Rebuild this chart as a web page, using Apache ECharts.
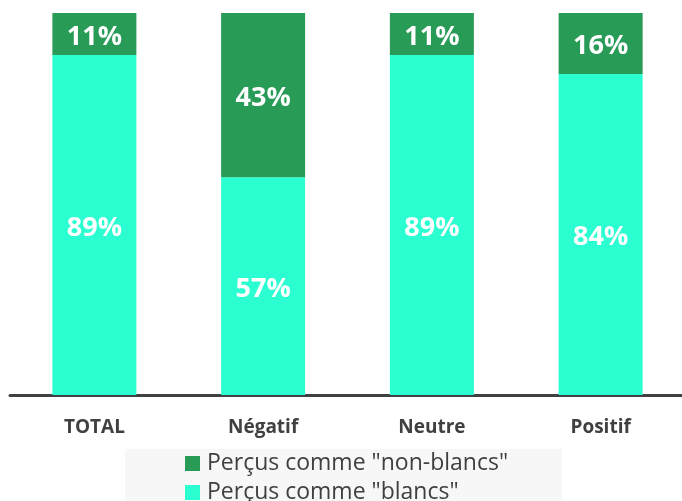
<!DOCTYPE html>
<html>
<head>
<meta charset="utf-8">
<script src="https://cdn.jsdelivr.net/npm/echarts@6/dist/echarts.min.js"></script>
<style>
  html, body { margin: 0; padding: 0; background: #fff; }
  #visualisation { width: 682px; height: 501px; }
</style>
</head>
<body>
<div id="visualisation"></div>
<script>
// Categorieën en waarden (in %)
const categories = ['TOTAL', 'Négatif', 'Neutre', 'Positif'];
const blancs = [89, 57, 89, 84];
const nonBlancs = [11, 43, 11, 16];
const nameBlancs = 'Perçus comme "blancs"';
const nameNonBlancs = 'Perçus comme "non-blancs"';

const font = '"Open Sans", sans-serif';

let visualisation = echarts.init(document.getElementById('visualisation'));

const label = {
    show: true,
    position: 'inside',
    offset: [0, 3],
    color: '#ffffff',
    fontFamily: font,
    fontWeight: 'bold',
    fontSize: 27,
    formatter: p => p.value + '%'
};

const legendBase = {
    orient: 'vertical',
    left: 185,
    itemWidth: 15, itemHeight: 15,
    icon: 'rect',
    padding: 0,
    textStyle: { color: '#404040', fontFamily: font, fontSize: 23, padding: [0, 0, 0, 2] }
};

let option = {
    animation: false,
    graphic: [{
        type: 'rect',
        left: 125, top: 449,
        shape: { width: 437, height: 52 },
        style: { fill: '#f7f7f7' },
        z: -1
    }],
    grid: { left: 10, width: 675, top: 13, bottom: 106, outerBoundsMode: 'none' },
    xAxis: {
        type: 'category',
        data: categories,
        axisLine: { lineStyle: { color: '#404040', width: 3 } },
        axisTick: { show: false },
        axisLabel: {
            color: '#404040', fontFamily: font, fontWeight: 'bold',
            fontSize: 19, margin: 23
        }
    },
    yAxis: {
        type: 'value', min: 0, max: 100,
        show: false, splitLine: { show: false }
    },
    legend: [
        Object.assign({}, legendBase, { top: 452, data: [nameNonBlancs] }),
        Object.assign({}, legendBase, { top: 481, data: [nameBlancs] })
    ],
    series: [
        {
            name: nameBlancs, type: 'bar', stack: 'tot', barWidth: 84,
            data: blancs, itemStyle: { color: '#2bffd1' }, label: label
        },
        {
            name: nameNonBlancs, type: 'bar', stack: 'tot', barWidth: 84,
            data: nonBlancs, itemStyle: { color: '#289b57' }, label: label
        }
    ]
};

visualisation.setOption(option);
</script>
</body>
</html>
